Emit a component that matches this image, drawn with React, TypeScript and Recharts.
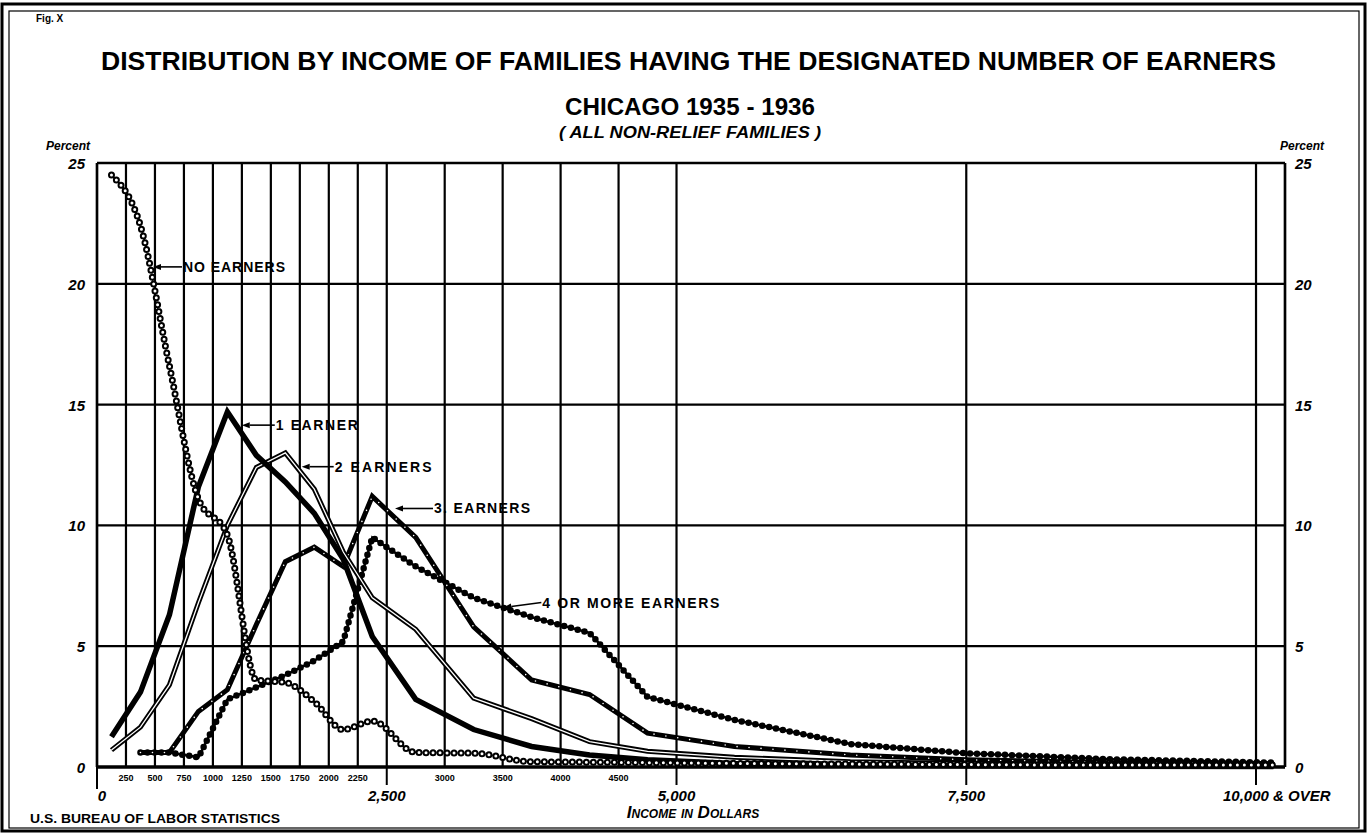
import React from 'react';
import { CartesianGrid, Line, LineChart, ReferenceDot, ReferenceLine, XAxis, YAxis } from 'recharts';

// class mid-points (the last one is "10,000 & over")
const incomes = [125, 375, 625, 875, 1125, 1375, 1625, 1875, 2125, 2375, 2750, 3250, 3750, 4250, 4750, 5500, 6500, 7500, 8750, 10150];
const noEarners = [24.5, 22.4, 16.6, 11.1, 9.6, 3.6, 3.5, 2.7, 1.55, 1.9, 0.6, 0.57, 0.22, 0.2, 0.18, 0.15, 0.12, 0.1, 0.08, 0.08];
const oneEarner = [1.25, 3.1, 6.3, 11.6, 14.7, 12.9, 11.8, 10.5, 8.6, 5.4, 2.8, 1.55, 0.85, 0.5, 0.3, 0.15, 0.08, 0.05, 0.03, 0.02];
const twoEarners = [0.7, 1.65, 3.4, 6.8, 10.0, 12.4, 13.0, 11.5, 8.9, 7.0, 5.7, 2.85, 2.0, 1.05, 0.65, 0.4, 0.22, 0.15, 0.1, 0.05];
const threeEarners = [null, 0.6, 0.6, 2.3, 3.2, 5.9, 8.5, 9.1, 8.3, 11.2, 9.5, 5.8, 3.6, 3.0, 1.4, 0.85, 0.5, 0.3, 0.18, 0.12];
const fourPlusEarners = [null, 0.6, 0.6, 0.4, 2.8, 3.3, 3.8, 4.4, 5.2, 9.5, 8.3, 7.0, 6.2, 5.55, 2.9, 1.95, 0.95, 0.57, 0.32, 0.18];

const xTicks = [0, 250, 500, 750, 1000, 1250, 1500, 1750, 2000, 2250, 2500, 3000, 3500, 4000, 4500, 5000, 7500, 10000, 10250];
const minorLabels: Record<number, string> = {
  250: '250', 500: '500', 750: '750', 1000: '1000', 1250: '1250', 1500: '1500', 1750: '1750',
  2000: '2000', 2250: '2250', 3000: '3000', 3500: '3500', 4000: '4000', 4500: '4500',
};
const majorLabels: Record<number, string> = { 0: '0', 2500: '2,500', 5000: '5,000', 7500: '7,500', 10000: '10,000 & OVER' };
const yTicks = [0, 5, 10, 15, 20, 25];

const data = incomes.map((income, i) => ({
  income,
  none: noEarners[i],
  one: oneEarner[i],
  two: twoEarners[i],
  three: threeEarners[i],
  four: fourPlusEarners[i],
}));

const W = 1368, H = 833;
const M = { top: 163, right: 83, bottom: 36, left: 37 };
const PLOT_W = W - M.left - M.right - 60;
const FONT = '"Liberation Sans", Arial, sans-serif';

function XTick(props: any) {
  const { x, y, payload } = props;
  const v = payload.value;
  if (minorLabels[v]) {
    return (
      <text x={x} y={y + 14} textAnchor="middle" fontSize={9} fontWeight={700} fontFamily={FONT}>
        {minorLabels[v]}
      </text>
    );
  }
  if (majorLabels[v] !== undefined) {
    const over = v === 10000;
    return (
      <g>
        <line x1={x} x2={x} y1={y} y2={y + (v === 0 ? 22 : 18)} stroke="#000" strokeWidth={2} />
        <text x={over ? x - 33 : v === 0 ? x + 5 : x} y={y + 34} textAnchor={over ? 'start' : 'middle'}
          fontSize={15} fontWeight={700} fontStyle="italic" fontFamily={FONT}>
          {majorLabels[v]}
        </text>
      </g>
    );
  }
  return <g />;
}

function YTick(props: any) {
  const { x, y, payload } = props;
  const style = { fontSize: 15, fontWeight: 700, fontStyle: 'italic', fontFamily: FONT } as const;
  return (
    <g>
      <text x={x - 12} y={y + 6} textAnchor="end" {...style}>{payload.value}</text>
      <text x={x + PLOT_W + 10} y={y + 6} textAnchor="start" {...style}>{payload.value}</text>
    </g>
  );
}

function Pointer({ cx, cy, dx, dy, text, width }: any) {
  const a = Math.atan2(dy, dx);
  const hx = cx + Math.cos(a) * 8, hy = cy + Math.sin(a) * 8;
  const px = -Math.sin(a) * 3, py = Math.cos(a) * 3;
  return (
    <g>
      <polygon points={`${cx},${cy} ${hx + px},${hy + py} ${hx - px},${hy - py}`} fill="#000" />
      <line x1={hx} y1={hy} x2={cx + dx} y2={cy + dy} stroke="#000" strokeWidth={1.6} />
      <text x={cx + dx + 1} y={cy + dy + 5} fontSize={14} fontWeight={700} fontFamily={FONT}
        textLength={width} lengthAdjust="spacing">{text}</text>
    </g>
  );
}

const notes = [
  { x: 483, y: 20.7, dx: 29, dy: 0, text: 'NO EARNERS', width: 102 },
  { x: 1249, y: 14.15, dx: 33, dy: 0, text: '1 EARNER', width: 82 },
  { x: 1766, y: 12.43, dx: 32, dy: 0, text: '2 EARNERS', width: 97 },
  { x: 2571, y: 10.7, dx: 38, dy: 0, text: '3. EARNERS', width: 96 },
  { x: 3506, y: 6.6, dx: 38, dy: -5, text: '4 OR MORE EARNERS', width: 177 },
];

export default function App() {
  return (
    <div style={{ position: 'fixed', left: 0, top: 0, width: W, height: H, background: '#fff' }}>
      <LineChart width={W} height={H} data={data} margin={M}>
        <CartesianGrid stroke="#000" strokeWidth={2.2} horizontalValues={yTicks} />
        <XAxis dataKey="income" type="number" domain={[0, 10250]} ticks={xTicks} interval={0}
          axisLine={false} tickLine={false} tickSize={0} tickMargin={0} height={30} tick={<XTick />} allowDataOverflow />
        <YAxis type="number" domain={[0, 25]} ticks={yTicks} interval={0} axisLine={false} tickLine={false}
          tickSize={0} tickMargin={0} width={60} tick={<YTick />} />
        <ReferenceLine y={0} stroke="#000" strokeWidth={3.5} />
        <ReferenceLine y={25} stroke="#000" strokeWidth={2.5} />
        <ReferenceLine x={0} stroke="#000" strokeWidth={2.5} />
        <ReferenceLine x={10250} stroke="#000" strokeWidth={2.5} />

        {/* 4 or more: black beads */}
        <Line dataKey="four" stroke="#000" strokeWidth={2.5} dot={false} activeDot={false} isAnimationActive={false} />
        <Line dataKey={(d: any) => d.four} name="four-beads" stroke="#000" strokeWidth={6.5} strokeDasharray="0 7"
          strokeLinecap="round" dot={false} activeDot={false} isAnimationActive={false} />
        {/* 3 earners: heavy line with white dots */}
        <Line dataKey="three" stroke="#000" strokeWidth={5} dot={false} activeDot={false} isAnimationActive={false} />
        <Line dataKey={(d: any) => d.three} name="three-dots" stroke="#fff" strokeWidth={1.6} strokeDasharray="0 12"
          strokeLinecap="round" dot={false} activeDot={false} isAnimationActive={false} />
        {/* 2 earners: double line */}
        <Line dataKey="two" stroke="#000" strokeWidth={5} dot={false} activeDot={false} isAnimationActive={false} />
        <Line dataKey={(d: any) => d.two} name="two-inner" stroke="#fff" strokeWidth={1.3} dot={false} activeDot={false}
          isAnimationActive={false} />
        {/* 1 earner: heavy solid */}
        <Line dataKey="one" stroke="#000" strokeWidth={5.5} dot={false} activeDot={false} isAnimationActive={false} />
        {/* no earners: chain of rings */}
        <Line type="monotone" dataKey="none" stroke="#000" strokeWidth={7} strokeDasharray="0 7" strokeLinecap="round"
          dot={false} activeDot={false} isAnimationActive={false} />
        <Line type="monotone" dataKey={(d: any) => d.none} name="none-rings" stroke="#fff" strokeWidth={3}
          strokeDasharray="0 7" strokeLinecap="round" dot={false} activeDot={false} isAnimationActive={false} />

        {notes.map((n) => (
          <ReferenceDot key={n.text} x={n.x} y={n.y} r={0}
            shape={(p: any) => <Pointer cx={p.cx} cy={p.cy} dx={n.dx} dy={n.dy} text={n.text} width={n.width} />} />
        ))}
      </LineChart>

      <svg width={W} height={H} style={{ position: 'absolute', left: 0, top: 0, pointerEvents: 'none' }}>
        <rect x={2} y={4} width={1363} height={827} fill="none" stroke="#000" strokeWidth={3} />
        <rect x={9} y={11} width={1350} height={817} fill="none" stroke="#000" strokeWidth={1.2} />
        <g fontFamily={FONT} fontWeight={700}>
          <text x={36} y={22} fontSize={10}>Fig. X</text>
          <text x={101} y={70} fontSize={25} textLength={1175} lengthAdjust="spacingAndGlyphs">
            DISTRIBUTION BY INCOME OF FAMILIES HAVING THE DESIGNATED NUMBER OF EARNERS
          </text>
          <text x={690} y={115} fontSize={23} textAnchor="middle" textLength={250} lengthAdjust="spacingAndGlyphs">
            CHICAGO   1935 - 1936
          </text>
          <text x={690} y={138} fontSize={16} fontStyle="italic" textAnchor="middle" textLength={262} lengthAdjust="spacingAndGlyphs">
            ( ALL NON-RELIEF FAMILIES )
          </text>
          <text x={90} y={150} fontSize={12} fontStyle="italic" textAnchor="end">Percent</text>
          <text x={1280} y={150} fontSize={12} fontStyle="italic">Percent</text>
          <text x={693} y={818} fontSize={17} fontStyle="italic" textAnchor="middle" style={{ fontVariant: 'small-caps' }}>
            Income in Dollars
          </text>
          <text x={30} y={823} fontSize={12} textLength={250} lengthAdjust="spacingAndGlyphs">
            U.S. BUREAU OF LABOR STATISTICS
          </text>
        </g>
      </svg>
    </div>
  );
}
